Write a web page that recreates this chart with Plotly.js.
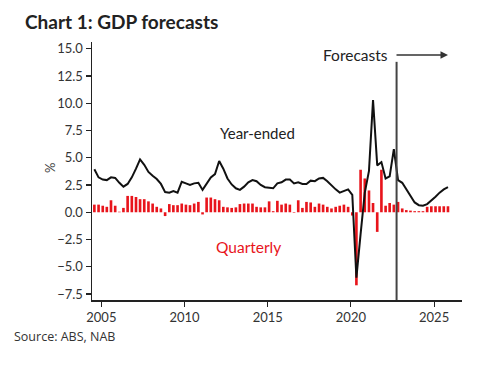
<!DOCTYPE html>
<html>
<head>
<meta charset="utf-8">
<script src="https://cdn.plot.ly/plotly-3.0.1.min.js"></script>
<style>html,body{margin:0;padding:0;background:#fff;}#chart{width:496px;height:367px;}</style>
</head>
<body>
<div id="chart"></div>
<script>
// First quarter shown: 2004 Q3 (plotted at the middle month of each quarter)
const startYear = 2004;
const startQuarter = 3;

// Year-ended GDP growth, %, 2004Q3 .. 2025Q4
const yearEnded = [
  3.95, 3.2,
  3.0, 2.95, 3.2, 3.15,
  2.7, 2.35, 2.6, 3.2,
  4.0, 4.85, 4.35, 3.7,
  3.35, 3.05, 2.6, 1.85,
  1.8, 1.95, 1.8, 2.8,
  2.65, 2.5, 2.65, 2.7,
  2.05, 2.6, 3.2, 3.5,
  4.7, 4.0, 3.1, 2.55,
  2.2, 2.05, 2.35, 2.75,
  2.95, 2.85, 2.5, 2.3,
  2.25, 2.2, 2.65, 2.75,
  3.0, 3.0, 2.65, 2.75,
  2.6, 2.6, 2.9, 2.85,
  3.1, 3.15, 2.85, 2.45,
  2.1, 1.8, 1.95, 2.1,
  1.6, -6.0, -2.0, 1.8,
  3.8, 10.3, 4.3, 4.6,
  3.1, 3.3, 5.8, 2.95,
  2.7, 2.1, 1.43, 0.9,
  0.65, 0.6, 0.75, 1.05,
  1.43, 1.8, 2.1, 2.3
];

// Quarterly GDP growth, %, 2004Q3 .. 2025Q4
const quarterly = [
  0.7, 0.7,
  0.6, 0.5, 1.1, 0.6,
  0.05, 0.4, 1.5, 1.5,
  1.4, 1.2, 1.2, 1.0,
  0.8, 0.5, 0.35, -0.35,
  0.75, 0.65, 0.65, 0.8,
  0.7, 0.65, 0.8, 0.95,
  -0.2, 1.35, 1.35, 1.2,
  1.1, 0.5, 0.45, 0.4,
  0.45, 0.75, 0.8, 0.8,
  0.8, 0.5, 0.45, 0.45,
  1.0, 0.1, 1.05, 0.7,
  0.8, 0.7, -0.05, 1.1,
  0.4, 0.95, 0.9, 0.5,
  0.8, 0.7, 0.5, 0.35,
  0.5, 0.6, 0.7, 0.5,
  -0.3, -6.7, 3.9, 3.1,
  2.0, 0.85, -1.8, 3.9,
  0.6, 0.85, 0.7, 0.95,
  0.35, 0.2, 0.15, 0.1,
  0.1, 0.1, 0.5, 0.55,
  0.55, 0.55, 0.55, 0.55
];

const forecastStart = '2022-09-30';
const xTickVals = ['2005-01-01', '2010-01-01', '2015-01-01', '2020-01-01', '2025-01-01'];
const xTickText = ['2005', '2010', '2015', '2020', '2025'];
const yTickVals = [-7.5, -5, -2.5, 0, 2.5, 5, 7.5, 10, 12.5, 15];

const titleText = 'Chart 1: GDP forecasts';
const sourceText = 'Source: ABS, NAB';

function pad(n) { return (n < 10 ? '0' : '') + n; }
const dates = yearEnded.map((_, i) => {
  const qi = (startQuarter - 1) + i;
  const y = startYear + Math.floor(qi / 4);
  const m = (qi % 4) * 3 + 2;
  return y + '-' + pad(m) + '-01';
});

const RED = '#e8141b';
const FONT = 'Lato, "Open Sans", sans-serif';

const traces = [
  {
    type: 'bar', x: dates, y: quarterly, marker: { color: RED, line: { width: 0 } },
    hoverinfo: 'skip', showlegend: false
  },
  {
    type: 'scatter', mode: 'lines', x: dates, y: yearEnded,
    line: { color: '#111', width: 2 }, hoverinfo: 'skip', showlegend: false
  }
];

const layout = {
  width: 496, height: 367,
  margin: { l: 92, r: 34, t: 42, b: 67 },
  paper_bgcolor: '#fff', plot_bgcolor: '#fff',
  font: { family: FONT, color: '#333', size: 13 },
  bargap: 0.35,
  title: {
    text: titleText, xref: 'container', yref: 'container',
    x: 25 / 496, xanchor: 'left', y: 1 - 22 / 367, yanchor: 'middle',
    font: { family: FONT, size: 19, weight: 700, color: '#222' }
  },
  xaxis: {
    type: 'date', range: ['2004-06-10', '2026-09-05'],
    tickmode: 'array', tickvals: xTickVals, ticktext: xTickText,
    showgrid: false, zeroline: false, showline: true, linecolor: '#222', linewidth: 1.5,
    ticks: 'outside', ticklen: 5, tickwidth: 1.2, tickcolor: '#222',
    tickfont: { size: 13, color: '#333' }
  },
  yaxis: {
    range: [-8.05, 15.62],
    tickmode: 'array', tickvals: yTickVals, tickformat: '.1f',
    showgrid: false, zeroline: false, showline: true, linecolor: '#222', linewidth: 1.5,
    ticks: 'outside', ticklen: 5, tickwidth: 1.2, tickcolor: '#222',
    tickfont: { size: 13, color: '#333' }
  },
  shapes: [
    { type: 'line', xref: 'x', yref: 'y', x0: forecastStart, x1: forecastStart, y0: -8.05, y1: 13.8,
      line: { color: '#444', width: 2 } }
  ],
  annotations: [
    { text: '%', xref: 'paper', yref: 'y', x: (40 - 92) / 370, y: 4.06, showarrow: false, textangle: -90,
      font: { size: 13, color: '#444' } },
    { text: 'Year-ended', xref: 'paper', yref: 'y', x: (257 - 92) / 370, y: 7.27, showarrow: false,
      font: { size: 15, color: '#222' } },
    { text: 'Quarterly', xref: 'paper', yref: 'y', x: (248 - 92) / 370, y: -3.18, showarrow: false,
      font: { size: 15.5, color: RED } },
    { text: 'Forecasts', xref: 'paper', yref: 'y', x: (390 - 92) / 370, xanchor: 'right', y: 14.43, showarrow: false,
      font: { size: 15.5, color: '#222' } },
    { text: '', xref: 'paper', yref: 'y', x: (448 - 92) / 370, y: 14.43, axref: 'pixel', ayref: 'pixel', ax: -53, ay: 0,
      showarrow: true, arrowhead: 2, arrowsize: 1, arrowwidth: 1.5, arrowcolor: '#333' },
    { text: sourceText, xref: 'paper', yref: 'paper', x: (12 - 92) / 370, xanchor: 'left', y: (300 - 336) / 258, yanchor: 'middle',
      showarrow: false, font: { family: '"Open Sans", sans-serif', size: 12.5, color: '#333' } }
  ]
};

Plotly.newPlot('chart', traces, layout, { staticPlot: true, displayModeBar: false });
</script>
</body>
</html>
